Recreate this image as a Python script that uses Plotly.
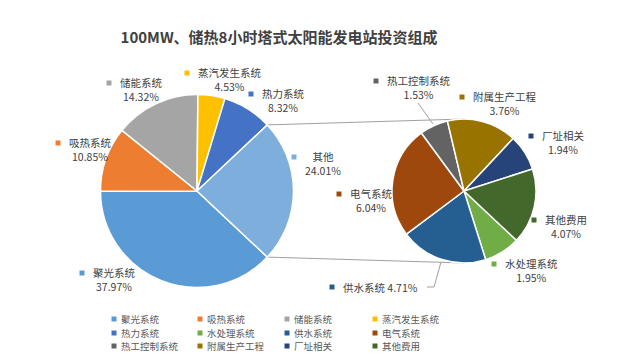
import plotly.graph_objects as go

# ---------------- data ----------------
main_labels = ["聚光系统", "吸热系统", "储能系统", "蒸汽发生系统", "热力系统", "其他"]
main_values = [37.97, 10.85, 14.32, 4.53, 8.32, 24.01]
main_colors = ["#5B9BD5", "#ED7D31", "#A5A5A5", "#FFC000", "#4472C4", "#7DAEDC"]

sub_labels = ["水处理系统", "供水系统", "电气系统", "热工控制系统", "附属生产工程", "厂址相关", "其他费用"]
sub_values = [1.95, 4.71, 6.04, 1.53, 3.76, 1.94, 4.07]
sub_colors = ["#70AD47", "#255E91", "#9E480E", "#636363", "#997300", "#264478", "#43682B"]

legend_labels = ["聚光系统", "吸热系统", "储能系统", "蒸汽发生系统",
                 "热力系统", "水处理系统", "供水系统", "电气系统",
                 "热工控制系统", "附属生产工程", "厂址相关", "其他费用"]

title_text = "100MW、储热8小时塔式太阳能发电站投资组成"

# ---------------- layout constants (pixels) ----------------
W, H = 625, 355
C1, R1 = (189, 183), 96.5     # main pie centre / radius
C2, R2 = (456, 183), 72       # secondary pie centre / radius
FONT = "Noto Sans CJK SC, Noto Sans, sans-serif"
TXT = "#404040"

# label block positions: (left x of text block, y of first line)
label_pos = {
    "聚光系统": (83, 265), "吸热系统": (59, 135), "储能系统": (110, 75),
    "蒸汽发生系统": (188, 65), "热力系统": (252, 86), "其他": (295, 149),
    "水处理系统": (495, 256), "供水系统": (333, 279), "电气系统": (340, 186),
    "热工控制系统": (377, 73), "附属生产工程": (463, 89), "厂址相关": (532, 128),
    "其他费用": (535, 212),
}
single_line = {"供水系统"}

legend_cols = [106, 192, 279, 367]
legend_rows = [311, 325, 338]


def px(x):
    return x / W


def py(y):
    return 1 - y / H


def domain(c, r):
    return dict(x=[px(c[0] - r), px(c[0] + r)], y=[py(c[1] + r), py(c[1] - r)])


rotation = 90 + 360 * main_values[-1] / 100 / 2  # centre "其他" at 3 o'clock

fig = go.Figure()
fig.add_trace(go.Pie(
    labels=main_labels, values=main_values, sort=False, direction="clockwise",
    rotation=rotation, domain=domain(C1, R1), textinfo="none", showlegend=False,
    marker=dict(colors=main_colors, line=dict(color="white", width=1.5)),
    hovertemplate="%{label}: %{value:.2f}%<extra></extra>",
))
fig.add_trace(go.Pie(
    labels=sub_labels, values=sub_values, sort=False, direction="clockwise",
    rotation=rotation, domain=domain(C2, R2), textinfo="none", showlegend=False,
    marker=dict(colors=sub_colors, line=dict(color="white", width=1.5)),
    hovertemplate="%{label}: %{value:.2f}%<extra></extra>",
))

shapes = []
annotations = []

# connector lines between the pies
import math
half = math.radians(360 * main_values[-1] / 100 / 2)
p_top = (C1[0] + R1 * math.cos(half), C1[1] - R1 * math.sin(half))
p_bot = (C1[0] + R1 * math.cos(half), C1[1] + R1 * math.sin(half))
for a, b in [(p_top, (C2[0], C2[1] - R2)), (p_bot, (C2[0], C2[1] + R2))]:
    shapes.append(dict(type="line", xref="paper", yref="paper", layer="below",
                       x0=px(a[0]), y0=py(a[1]), x1=px(b[0]), y1=py(b[1]),
                       line=dict(color="#A0A0A0", width=1)))

# leader lines
def path(points):
    s = "M " + " L ".join(f"{px(x):.5f},{py(y):.5f}" for x, y in points)
    return s

shapes.append(dict(type="path", xref="paper", yref="paper", layer="above",
                   path=path([(410, 95), (425, 116)]),
                   line=dict(color="#A0A0A0", width=1)))
shapes.append(dict(type="path", xref="paper", yref="paper", layer="above",
                   path=path([(419, 279), (426, 279), (433, 254)]),
                   line=dict(color="#A0A0A0", width=1)))


def square(x, y, color, s=5):
    return dict(type="rect", xref="paper", yref="paper", layer="above",
                x0=px(x - s / 2), x1=px(x + s / 2), y0=py(y + s / 2), y1=py(y - s / 2),
                fillcolor=color, line=dict(width=0))


all_vals = dict(zip(main_labels, main_values))
all_vals.update(zip(sub_labels, sub_values))
all_cols = dict(zip(main_labels, main_colors))
all_cols.update(zip(sub_labels, sub_colors))

for name, (lx, ly) in label_pos.items():
    v = all_vals[name]
    if name in single_line:
        txt = f"{name} {v:.2f}%"
        cy = ly
    else:
        txt = f"{name}<br>{v:.2f}%"
        cy = ly + 6.5
    annotations.append(dict(text=txt, x=px(lx), y=py(cy), xref="paper", yref="paper",
                            xanchor="left", yanchor="middle", showarrow=False, align="center",
                            font=dict(family=FONT, size=10.5, color=TXT)))
    shapes.append(square(lx - 9, ly, all_cols[name]))

# legend (manual, 4 columns)
for i, name in enumerate(legend_labels):
    x = legend_cols[i % 4]
    y = legend_rows[i // 4]
    shapes.append(square(x, y, all_cols[name]))
    annotations.append(dict(text=name, x=px(x + 5), y=py(y), xref="paper", yref="paper",
                            xanchor="left", yanchor="middle", showarrow=False,
                            font=dict(family=FONT, size=9.5, color="#595959")))

fig.update_layout(
    width=W, height=H,
    margin=dict(l=0, r=0, t=0, b=0),
    paper_bgcolor="white", plot_bgcolor="white",
    title=dict(text=f"<b>{title_text}</b>", x=px(271), y=py(30),
               xanchor="center", yanchor="middle",
               font=dict(family=FONT, size=15, color=TXT)),
    shapes=shapes, annotations=annotations,
    showlegend=False,
)

fig.write_html("out.html")
